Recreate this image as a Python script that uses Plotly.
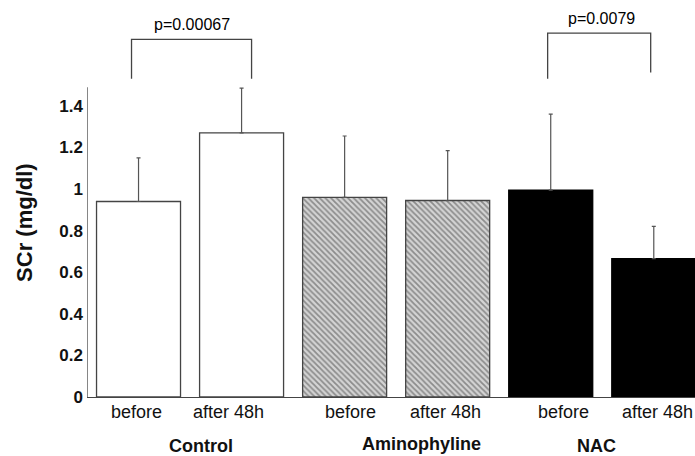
import plotly.graph_objects as go

# ---- data ----
groups = ["Control", "Aminophyline", "NAC"]
bar_labels = ["before", "after 48h", "before", "after 48h", "before", "after 48h"]
means = [0.94, 1.27, 0.96, 0.945, 0.995, 0.665]
sd_plus = [0.21, 0.215, 0.295, 0.24, 0.365, 0.155]
p_labels = ["p=0.00067", "p=0.0079"]
y_ticks = [0, 0.2, 0.4, 0.6, 0.8, 1, 1.2, 1.4]
y_ticktext = ["0", "0.2", "0.4", "0.6", "0.8", "1", "1.2", "1.4"]

# ---- layout helpers (positions) ----
xpos = list(range(len(means)))
label_x = [-0.02, 0.87, 2.06, 2.98, 4.12, 5.04]
group_x = [0.61, 2.75, 4.44]
group_y = [-0.126, -0.120, -0.126]

fills = ["white", "white", "#d4d4d4", "#d4d4d4", "black", "black"]
patterns = ["", "", "\\", "\\", "", ""]
FONT = "Liberation Sans, Arial"

fig = go.Figure()
fig.add_trace(go.Bar(
    x=xpos, y=means, width=0.815,
    marker=dict(
        color=fills,
        line=dict(color=["#444", "#444", "#444", "#444", "black", "black"], width=1.3),
        pattern=dict(shape=patterns, fgcolor="#404040", bgcolor="#dedede", size=4, solidity=0.45),
    ),
    error_y=dict(type="data", symmetric=False, array=sd_plus,
                 arrayminus=[0] * len(means), color="#555", thickness=1.2, width=2),
    showlegend=False,
))

shapes = []
# y axis line
shapes.append(dict(type="line", xref="x", yref="y", x0=-0.5, x1=-0.5, y0=0, y1=1.49,
                   line=dict(color="#444", width=1.3)))
# significance brackets
brackets = [(-0.068, 1.097, 1.53, 1.53, 1.72), (3.97, 4.97, 1.53, 1.56, 1.75)]
for xl, xr, yl, yr, yt in brackets:
    shapes.append(dict(type="path", xref="x", yref="y",
                       path=f"M {xl},{yl} L {xl},{yt} L {xr},{yt} L {xr},{yr}",
                       line=dict(color="#444", width=1.3)))

annotations = []
p_pos = [(0.52, 1.79), (4.49, 1.82)]
for (px, py), txt in zip(p_pos, p_labels):
    annotations.append(dict(x=px, y=py, xref="x", yref="y", text=txt, showarrow=False,
                            font=dict(size=16, color="#000", family=FONT),
                            xanchor="center", yanchor="middle"))
for lx, txt in zip(label_x, bar_labels):
    annotations.append(dict(x=lx, y=-0.038, xref="x", yref="paper", text=txt, showarrow=False,
                            font=dict(size=18, color="#111", family=FONT),
                            xanchor="center", yanchor="middle"))
for gx, gy, txt in zip(group_x, group_y, groups):
    annotations.append(dict(x=gx, y=gy, xref="x", yref="paper", text=f"<b>{txt}</b>",
                            showarrow=False,
                            font=dict(size=18, color="#111", family=FONT),
                            xanchor="center", yanchor="middle"))
annotations.append(dict(x=-0.104, y=0.446, xref="paper", yref="paper", text="<b>SCr (mg/dl)</b>",
                        showarrow=False, textangle=-90,
                        font=dict(size=22, color="#111", family=FONT),
                        xanchor="center", yanchor="middle"))

fig.update_layout(
    width=695, height=456,
    margin=dict(l=87, r=0, t=5, b=59),
    paper_bgcolor="white", plot_bgcolor="white",
    shapes=shapes, annotations=annotations,
    xaxis=dict(range=[-0.5, 5.4], showticklabels=False, ticks="", showgrid=False,
               zeroline=False, showline=True, linecolor="#444", linewidth=1.3),
    yaxis=dict(range=[0, 1.885], tickvals=y_ticks, ticktext=y_ticktext,
               ticks="", showgrid=False, zeroline=False, showline=False,
               tickfont=dict(size=17, color="#111", family=FONT, weight="bold"),
               ticklabelstandoff=3),
    font=dict(family=FONT),
)
fig.write_html("out.html")
